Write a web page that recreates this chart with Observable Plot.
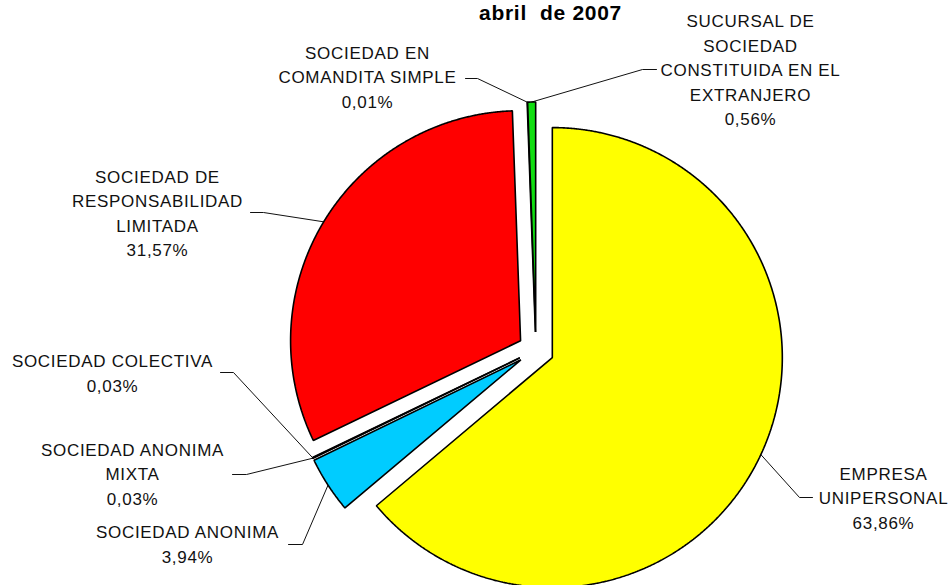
<!DOCTYPE html>
<html>
<head>
<meta charset="utf-8">
<script src="https://cdn.jsdelivr.net/npm/d3@7"></script>
<script src="https://cdn.jsdelivr.net/npm/@observablehq/plot@0.6"></script>
<style>
  html, body { margin: 0; padding: 0; background: #ffffff; }
  #chart { width: 950px; height: 585px; }
</style>
</head>
<body>
<div id="chart"></div>
<script>
// ---- data ----
const title = "abril  de 2007";
const categories = [
  "EMPRESA\nUNIPERSONAL",
  "SOCIEDAD ANONIMA",
  "SOCIEDAD ANONIMA\nMIXTA",
  "SOCIEDAD COLECTIVA",
  "SOCIEDAD DE\nRESPONSABILIDAD\nLIMITADA",
  "SOCIEDAD EN\nCOMANDITA SIMPLE",
  "SUCURSAL DE\nSOCIEDAD\nCONSTITUIDA EN EL\nEXTRANJERO"
];
const values = [63.86, 3.94, 0.03, 0.03, 31.57, 0.01, 0.56];
const colors = ["#FFFF00", "#00CCFF", "#FF00FF", "#000080", "#FF0000", "#808000", "#11DD11"];

// ---- layout (pixels) ----
const W = 950, H = 585;
const center = [535.5, 349.5];
const radius = 230;
const explode = 18;
const labelX = [883, 187, 132, 112, 157, 367, 750];
const labelY = [496, 542, 472, 371, 211, 75, 68];
const tickStart = [[812, 497], [288, 544], [232, 474], [220, 372], [250, 212], [465, 78], [656, 69]];
const tickEnd   = [[799, 497], [302, 544], [246, 474], [233, 372], [263, 212], [477, 78], [642, 69]];

// ---- geometry from values ----
const arcs = d3.pie().sort(null).value(d => d)(values);
const slicePts = [];
const leaderPts = [];
const labels = [];
arcs.forEach((a, i) => {
  const mid = (a.startAngle + a.endAngle) / 2;
  const ax = center[0] + explode * Math.sin(mid);
  const ay = center[1] - explode * Math.cos(mid);
  const name = categories[i];
  slicePts.push({name, x: ax, y: ay, color: colors[i]});
  const step = Math.PI / 720;
  const n = Math.max(1, Math.ceil((a.endAngle - a.startAngle) / step));
  for (let k = 0; k <= n; k++) {
    const t = a.startAngle + (a.endAngle - a.startAngle) * k / n;
    slicePts.push({name, x: ax + radius * Math.sin(t), y: ay - radius * Math.cos(t), color: colors[i]});
  }
  // leader line
  leaderPts.push({name, x: tickStart[i][0], y: tickStart[i][1]});
  leaderPts.push({name, x: tickEnd[i][0], y: tickEnd[i][1]});
  leaderPts.push({name, x: ax + radius * Math.sin(mid), y: ay - radius * Math.cos(mid)});
  labels.push({
    x: labelX[i], y: labelY[i],
    text: name + "\n" + values[i].toFixed(2).replace(".", ",") + "%"
  });
});

const chart = Plot.plot({
  width: W,
  height: H,
  margin: 0,
  x: {domain: [0, W], range: [0, W], axis: null},
  y: {domain: [0, H], range: [0, H], axis: null},
  color: {type: "identity"},
  style: {fontFamily: "'Liberation Sans', Arial, sans-serif", background: "#ffffff"},
  marks: [
    Plot.line(leaderPts, {x: "x", y: "y", z: "name", stroke: "#111", strokeWidth: 1}),
    Plot.line(slicePts, {
      x: "x", y: "y", z: "name", fill: "color", stroke: "#000",
      strokeWidth: 1.6, strokeLinejoin: "miter", curve: "linear-closed"
    }),
    Plot.text(labels, {
      x: "x", y: "y", text: "text", fontSize: 17, lineHeight: 1.44,
      textAnchor: "middle", lineAnchor: "middle", fill: "#111"
    }),
    Plot.text([title], {
      x: [550], y: [13], text: d => d, fontSize: 21, fontWeight: "bold",
      textAnchor: "middle", lineAnchor: "middle", fill: "#000"
    })
  ]
});
chart.style.letterSpacing = "0.7px";
document.getElementById("chart").appendChild(chart);
</script>
</body>
</html>
